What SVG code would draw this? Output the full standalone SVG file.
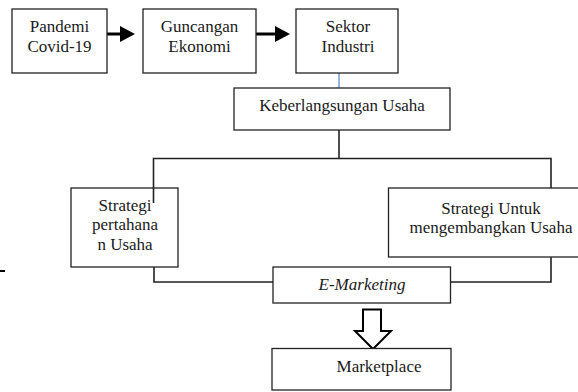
<svg xmlns="http://www.w3.org/2000/svg" width="578" height="392" viewBox="0 0 578 392">
<style>
.box{fill:#fff;stroke:#222;stroke-width:1.3}
.t{font-family:'Liberation Serif','Times New Roman',serif;font-size:17px;fill:#1a1a1a;text-anchor:middle}
.c{fill:none;stroke:#222;stroke-width:1.6}
</style>
<rect width="578" height="392" fill="#fff"/>
<g id="connectors">
<line x1="107" y1="34" x2="122" y2="34" stroke="#000" stroke-width="3"/>
<polygon points="120,26 135,34 120,42" fill="#000"/>
<line x1="256" y1="34" x2="276" y2="34" stroke="#000" stroke-width="3"/>
<polygon points="275,26 290,34 275,42" fill="#000"/>
<line x1="339" y1="73" x2="339" y2="88" stroke="#5b8fc7" stroke-width="1.3"/>
<polyline class="c" points="339,130 339,158.5"/>
<polyline class="c" points="153.5,203 153.5,158.5 551,158.5 551,188"/>
<polyline class="c" points="154,267 154,282 273,282"/>
<polyline class="c" points="551,257 551,282 450,282"/>
<polygon points="363,309.5 381,309.5 381,331 391,331 373,349 355,331 363,331" fill="#fff" stroke="#000" stroke-width="2"/>
<line x1="0" y1="271" x2="5" y2="271" stroke="#000" stroke-width="2"/>
</g>
<g id="pandemi">
<rect class="box" x="12" y="9" width="95" height="64"/>
<text class="t" x="59.5" y="32">Pandemi</text>
<text class="t" x="59.5" y="52">Covid-19</text>
</g>
<g id="guncangan">
<rect class="box" x="143" y="9" width="113" height="64"/>
<text class="t" x="199.5" y="32">Guncangan</text>
<text class="t" x="199.5" y="52">Ekonomi</text>
</g>
<g id="sektor">
<rect class="box" x="296" y="9" width="102" height="64"/>
<text class="t" x="348" y="32">Sektor</text>
<text class="t" x="348" y="52">Industri</text>
</g>
<g id="keberlangsungan">
<rect class="box" x="234" y="88" width="216" height="42"/>
<text class="t" x="342" y="111">Keberlangsungan Usaha</text>
</g>
<g id="pertahanan">
<rect class="box" x="71" y="188" width="107" height="79" style="fill:none"/>
<text class="t" x="125" y="211">Strategi</text>
<text class="t" x="125" y="230">pertahana</text>
<text class="t" x="125" y="250">n Usaha</text>
</g>
<g id="mengembangkan">
<rect class="box" x="388.5" y="188" width="192" height="69"/>
<text class="t" x="491" y="213.5" font-size="16.5">Strategi Untuk</text>
<text class="t" x="491" y="233" font-size="16.5">mengembangkan Usaha</text>
</g>
<g id="emarketing">
<rect class="box" x="273" y="267" width="177.5" height="36"/>
<text class="t" x="362" y="290" font-style="italic">E-Marketing</text>
</g>
<g id="marketplace">
<rect class="box" x="272" y="348.5" width="179" height="41.5"/>
<text class="t" x="379" y="372">Marketplace</text>
</g>
</svg>
